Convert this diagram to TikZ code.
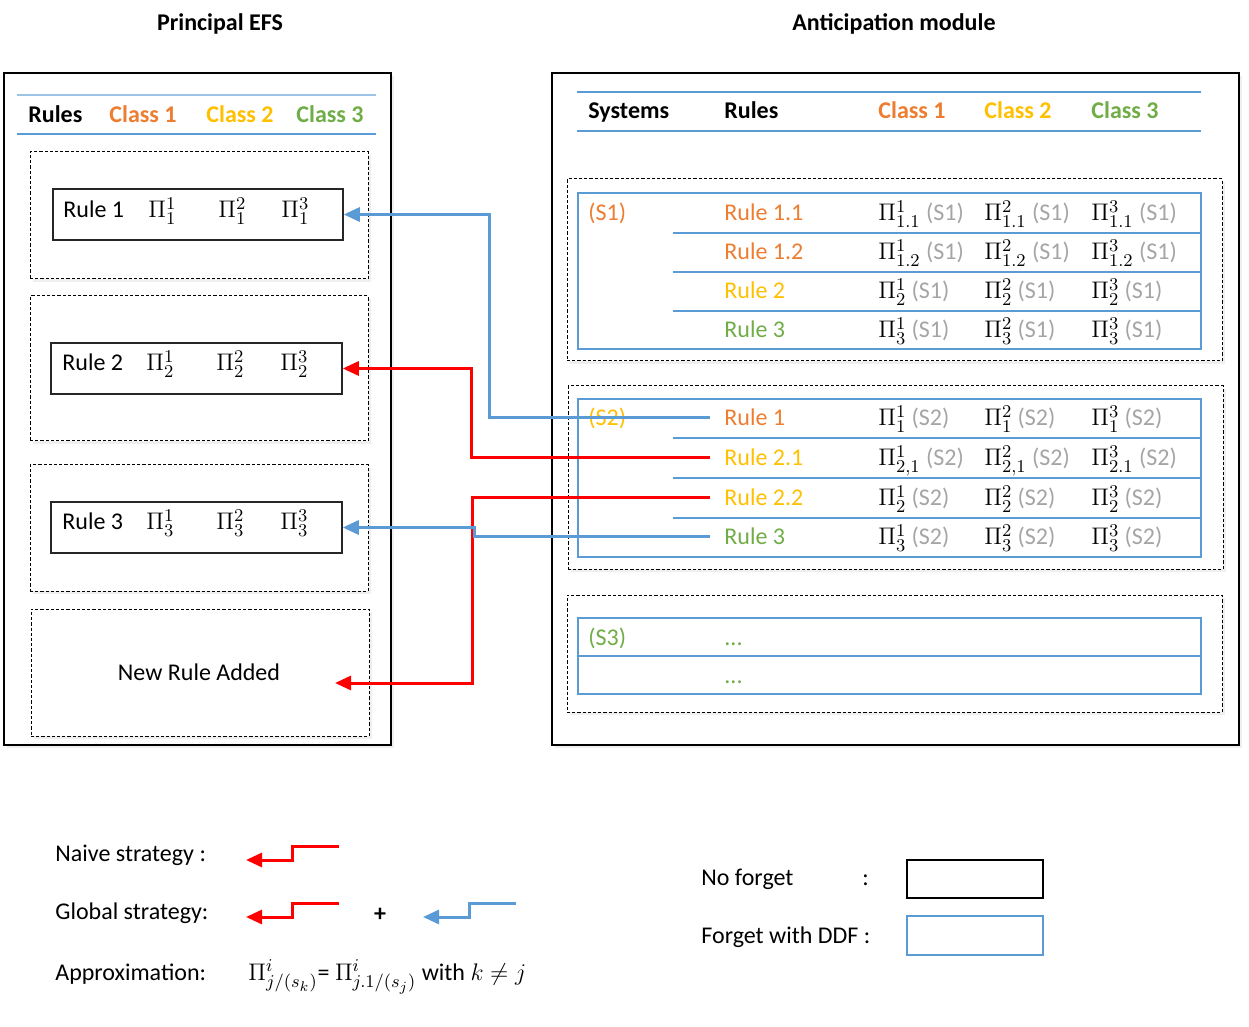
\documentclass[tikz,border=0pt]{standalone}
\usepackage{fontspec}
\setmainfont{Carlito}
\DeclareMathSizes{12}{12}{9}{7}
\usetikzlibrary{arrows.meta,fit,shadows,calc}
\definecolor{corange}{HTML}{ED7D31}
\definecolor{cgold}{HTML}{FFC000}
\definecolor{cgreen}{HTML}{70AD47}
\definecolor{cblue}{HTML}{5B9BD5}
\definecolor{clblue}{HTML}{9DC3E6}
\definecolor{cgray}{HTML}{A5A5A5}
\tikzset{
  txt/.style={inner sep=0pt, anchor=base west, font=\fontsize{12}{14}\selectfont},
  hdr/.style={txt, font=\fontsize{12}{14}\selectfont\bfseries},
  softshadow/.style={drop shadow={opacity=0.12, shadow xshift=1.5pt, shadow yshift=-1.5pt}},
  panel/.style={draw=black, line width=0.75pt, fill=white, inner sep=0pt, softshadow},
  dbox/.style={draw=black, line width=0.5pt, dash pattern=on 1.6pt off 1pt, fill=white, inner sep=0pt, softshadow},
  rbox/.style={draw=black!85, line width=0.75pt, inner sep=0pt},
  tline/.style={draw=cblue, line width=0.7pt},
  tbox/.style={draw=cblue, line width=0.7pt, inner sep=0pt},
  redarr/.style={draw=red, line width=1.5pt, -{Triangle[length=8pt,width=7pt]}},
  bluearr/.style={draw=cblue, line width=1.5pt, -{Triangle[length=8pt,width=7pt]}},
}
\newcommand{\gr}[1]{{\color{cgray}#1}}
\begin{document}
\begin{tikzpicture}[x=0.5pt,y=-0.5pt]
\useasboundingbox (0,0) rectangle (1249,1027);
\fill[white] (0,0) rectangle (1249,1027);

% titles
\node[hdr, anchor=base] (t1) at (220,31) {Principal EFS};
\node[hdr, anchor=base] (t2) at (894,31) {Anticipation module};

% panels
\node[panel, fit={(4,73)(391,745)}] (lp) {};
\node[panel, fit={(552,73)(1239,745)}] (rp) {};

% left header
\draw[draw=clblue, line width=0.7pt] (17,95) -- (376,95);
\draw[tline] (17,134) -- (376,134);
\node[hdr] (lh1) at (28,123) {Rules};
\node[hdr, text=corange] (lh2) at (109,123) {Class 1};
\node[hdr, text=cgold] (lh3) at (206,123) {Class 2};
\node[hdr, text=cgreen] (lh4) at (296,123) {Class 3};

% left dashed boxes
\node[dbox, fit={(30,152)(368,279)}] (d1) {};
\node[dbox, fit={(30,296)(368,441)}] (d2) {};
\node[dbox, fit={(30,465)(368,591)}] (d3) {};
\node[dbox, fit={(31,609)(369,736)}] (d4) {};

% rule boxes
\node[rbox, fit={(53,189)(343,240)}] (b1) {};
\node[rbox, fit={(51,343)(342,394)}] (b2) {};
\node[rbox, fit={(51,502)(342,553)}] (b3) {};

\node[txt] (r1) at (63,218) {Rule 1};
\node[txt] (r1a) at (148,218) {$\Pi^1_1$};
\node[txt] (r1b) at (218,218) {$\Pi^2_1$};
\node[txt] (r1c) at (281,218) {$\Pi^3_1$};

\node[txt] (r2) at (62,371) {Rule 2};
\node[txt] (r2a) at (146,371) {$\Pi^1_2$};
\node[txt] (r2b) at (216,371) {$\Pi^2_2$};
\node[txt] (r2c) at (280,371) {$\Pi^3_2$};

\node[txt] (r3) at (62,530) {Rule 3};
\node[txt] (r3a) at (146,530) {$\Pi^1_3$};
\node[txt] (r3b) at (216,530) {$\Pi^2_3$};
\node[txt] (r3c) at (280,530) {$\Pi^3_3$};

\node[txt, anchor=base] (nr) at (199,680) {New Rule Added};
\coordinate (newin) at (335,683);

% right header
\draw[tline] (577,92) -- (1201,92);
\draw[tline] (577,131) -- (1201,131);
\node[hdr] (rh1) at (588,119) {Systems};
\node[hdr] (rh2) at (724,119) {Rules};
\node[hdr, text=corange] (rh3) at (878,119) {Class 1};
\node[hdr, text=cgold] (rh4) at (984,119) {Class 2};
\node[hdr, text=cgreen] (rh5) at (1091,119) {Class 3};

% S1
\node[dbox, fit={(567,179)(1222,361)}] (ds1) {};
\node[tbox, fit={(578,193)(1201,349)}] (ts1) {};
\foreach \yy in {233,272,311} \draw[tline] (673,\yy) -- (1201,\yy);
\node[txt, text=corange] (s1) at (588,221) {(S1)};
\node[txt, text=corange] (s1r11) at (724,221) {Rule 1.1};
\node[txt, text=corange] (s1r12) at (724,260) {Rule 1.2};
\node[txt, text=cgold] (s1r2) at (724,299) {Rule 2};
\node[txt, text=cgreen] (s1r3) at (724,338) {Rule 3};
\node[txt] (s1a1) at (878,221) {$\Pi^1_{1.1}$ \gr{(S1)}};
\node[txt] (s1b1) at (984,221) {$\Pi^2_{1.1}$ \gr{(S1)}};
\node[txt] (s1c1) at (1091,221) {$\Pi^3_{1.1}$ \gr{(S1)}};
\node[txt] (s1a2) at (878,260) {$\Pi^1_{1.2}$ \gr{(S1)}};
\node[txt] (s1b2) at (984,260) {$\Pi^2_{1.2}$ \gr{(S1)}};
\node[txt] (s1c2) at (1091,260) {$\Pi^3_{1.2}$ \gr{(S1)}};
\node[txt] (s1a3) at (878,299) {$\Pi^1_{2}$ \gr{(S1)}};
\node[txt] (s1b3) at (984,299) {$\Pi^2_{2}$ \gr{(S1)}};
\node[txt] (s1c3) at (1091,299) {$\Pi^3_{2}$ \gr{(S1)}};
\node[txt] (s1a4) at (878,338) {$\Pi^1_{3}$ \gr{(S1)}};
\node[txt] (s1b4) at (984,338) {$\Pi^2_{3}$ \gr{(S1)}};
\node[txt] (s1c4) at (1091,338) {$\Pi^3_{3}$ \gr{(S1)}};

% S2
\node[dbox, fit={(568,386)(1223,569)}] (ds2) {};
\node[tbox, fit={(578,399)(1201,557)}] (ts2) {};
\foreach \yy in {438,478,518} \draw[tline] (673,\yy) -- (1201,\yy);
\node[txt, text=cgold] (s2) at (588,426) {(S2)};
\node[txt, text=corange] (s2r1) at (724,426) {Rule 1};
\node[txt, text=cgold] (s2r21) at (724,466) {Rule 2.1};
\node[txt, text=cgold] (s2r22) at (724,506) {Rule 2.2};
\node[txt, text=cgreen] (s2r3) at (724,545) {Rule 3};
\node[txt] (s2a1) at (878,426) {$\Pi^1_{1}$ \gr{(S2)}};
\node[txt] (s2b1) at (984,426) {$\Pi^2_{1}$ \gr{(S2)}};
\node[txt] (s2c1) at (1091,426) {$\Pi^3_{1}$ \gr{(S2)}};
\node[txt] (s2a2) at (878,466) {$\Pi^1_{2,1}$ \gr{(S2)}};
\node[txt] (s2b2) at (984,466) {$\Pi^2_{2,1}$ \gr{(S2)}};
\node[txt] (s2c2) at (1091,466) {$\Pi^3_{2.1}$ \gr{(S2)}};
\node[txt] (s2a3) at (878,506) {$\Pi^1_{2}$ \gr{(S2)}};
\node[txt] (s2b3) at (984,506) {$\Pi^2_{2}$ \gr{(S2)}};
\node[txt] (s2c3) at (1091,506) {$\Pi^3_{2}$ \gr{(S2)}};
\node[txt] (s2a4) at (878,545) {$\Pi^1_{3}$ \gr{(S2)}};
\node[txt] (s2b4) at (984,545) {$\Pi^2_{3}$ \gr{(S2)}};
\node[txt] (s2c4) at (1091,545) {$\Pi^3_{3}$ \gr{(S2)}};

% S3
\node[dbox, fit={(567,595)(1222,712)}] (ds3) {};
\node[tbox, fit={(578,618)(1201,694)}] (ts3) {};
\draw[tline] (578,656) -- (1201,656);
\node[txt, text=cgreen] (s3) at (588,645) {(S3)};
\node[txt, text=cgreen] (s3d1) at (724,645) {...};
\node[txt, text=cgreen] (s3d2) at (724,683) {...};

% connectors
\draw[bluearr] ([xshift=-7pt]s2r1.west) -| ([xshift=73pt]b1.east) -- (b1.east);
\draw[redarr] ([xshift=-7pt]s2r21.west) -| ([xshift=64.5pt]b2.east) -- (b2.east);
\draw[redarr] ([xshift=-7pt]s2r22.west) -| ([xshift=68.5pt]newin) -- (newin);
\draw[bluearr] ([xshift=-7pt]s2r3.west) -| ([xshift=66pt]b3.east) -- (b3.east);

% legend left
\node[txt] (ln) at (55,861) {Naive strategy :};
\node[txt] (lg) at (55,919) {Global strategy:};
\node[txt] (la) at (55,980) {Approximation:};
\node[txt] (lf) at (248,980) {$\Pi^{i}_{j/(s_k)}$= $\Pi^{i}_{j.1/(s_j)}$ with $k \neq j$};
\node[hdr, anchor=base] (plus) at (380,921) {+};
\draw[redarr] (339,846) -- (292,846) -- (292,860) -- (246,860);
\draw[redarr] (339,903) -- (292,903) -- (292,917) -- (246,917);
\draw[bluearr] (516,903) -- (469,903) -- (469,917) -- (423,917);

% legend right
\node[txt] (nf) at (701,885) {No forget};
\node[txt] (nfc) at (862,885) {:};
\node[rbox, draw=black, fit={(907,860)(1043,898)}] (nfb) {};
\node[txt] (fd) at (701,943) {Forget with DDF :};
\node[tbox, fit={(907,916)(1043,955)}] (fdb) {};
\end{tikzpicture}
\end{document}
